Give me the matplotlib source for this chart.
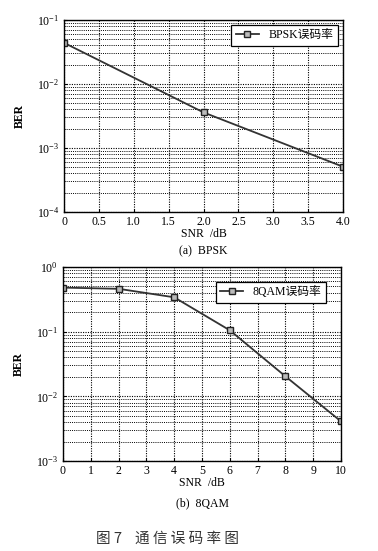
import matplotlib
matplotlib.use("Agg")
import matplotlib.pyplot as plt
from matplotlib.ticker import LogLocator, LogFormatterMathtext, NullFormatter

plt.rcParams["font.family"] = ["Liberation Serif", "Noto Sans CJK SC"]
plt.rcParams["mathtext.fontset"] = "stix"

bpsk_snr = [0, 2, 4]
bpsk_ber = [0.044, 0.0036, 0.00051]
bpsk_ticks = [0, 0.5, 1.0, 1.5, 2.0, 2.5, 3.0, 3.5, 4.0]
bpsk_ticklabels = ["0", "0.5", "1.0", "1.5", "2.0", "2.5", "3.0", "3.5", "4.0"]

qam_snr = [0, 2, 4, 6, 8, 10]
qam_ber = [0.48, 0.46, 0.34, 0.105, 0.0204, 0.0041]
qam_ticks = list(range(0, 11))

FS = 8.5


def style_axes(ax, ylim):
    ax.set_yscale("log")
    ax.set_ylim(*ylim)
    ax.yaxis.set_major_locator(LogLocator(base=10))
    ax.yaxis.set_minor_locator(LogLocator(base=10, subs=range(2, 10)))
    ax.yaxis.set_major_formatter(LogFormatterMathtext())
    ax.yaxis.set_minor_formatter(NullFormatter())
    ax.grid(True, which="major", color="black", linestyle=(0, (1, 1.2)), linewidth=0.8)
    ax.grid(True, which="minor", axis="y", color="black", linestyle=(0, (1, 1.2)), linewidth=0.7)
    ax.tick_params(which="both", direction="in", labelsize=FS, length=2)
    ax.tick_params(which="minor", length=1)
    ax.tick_params(axis="x", pad=3)
    for s in ax.spines.values():
        s.set_linewidth(1.0)
    ax.set_xlabel("SNR  /dB", fontsize=FS, labelpad=0)
    ax.set_ylabel("BER", fontsize=FS, fontweight="bold", labelpad=8)


fig = plt.figure(figsize=(3.78, 5.51), dpi=100)
W, H = 378, 551

ax1 = fig.add_axes([64 / W, 1 - 212 / H, (343 - 64) / W, (212 - 20) / H])
ax1.plot(bpsk_snr, bpsk_ber, color="#333333", linewidth=1.3, marker="s",
         markersize=4, markerfacecolor="#bbbbbb", markeredgecolor="#222222",
         label="BPSK误码率")
ax1.set_xlim(0, 4)
ax1.set_xticks(bpsk_ticks, bpsk_ticklabels)
style_axes(ax1, (1e-4, 1e-1))
leg = ax1.legend(loc="upper right", fontsize=FS, fancybox=False, edgecolor="black",
                 framealpha=1, handlelength=2.0, borderpad=0.35, borderaxespad=0.45)
leg.get_frame().set_linewidth(0.9)
fig.text(0.5 * (64 + 343) / W, 1 - 251 / H, "(a)  BPSK", ha="center", va="center", fontsize=FS)

ax2 = fig.add_axes([63 / W, 1 - 461 / H, (341 - 63) / W, (461 - 267) / H])
ax2.plot(qam_snr, qam_ber, color="#333333", linewidth=1.3, marker="s",
         markersize=4, markerfacecolor="#bbbbbb", markeredgecolor="#222222",
         label="8QAM误码率")
ax2.set_xlim(0, 10)
ax2.set_xticks(qam_ticks)
style_axes(ax2, (1e-3, 1))
leg = ax2.legend(loc="upper right", fontsize=FS, fancybox=False, edgecolor="black",
                 framealpha=1, handlelength=2.0, borderpad=0.35, borderaxespad=1.3)
leg.get_frame().set_linewidth(0.9)
fig.text(0.5 * (63 + 341) / W, 1 - 503 / H, "(b)  8QAM", ha="center", va="center", fontsize=FS)

fig.text(168 / W, 1 - 539 / H, "图 7    通 信 误 码 率 图", ha="center", va="center",
         fontsize=10.5, family=["Noto Sans CJK SC"], color="#333333")

fig.savefig("out.png", dpi=100)
plt.close(fig)
